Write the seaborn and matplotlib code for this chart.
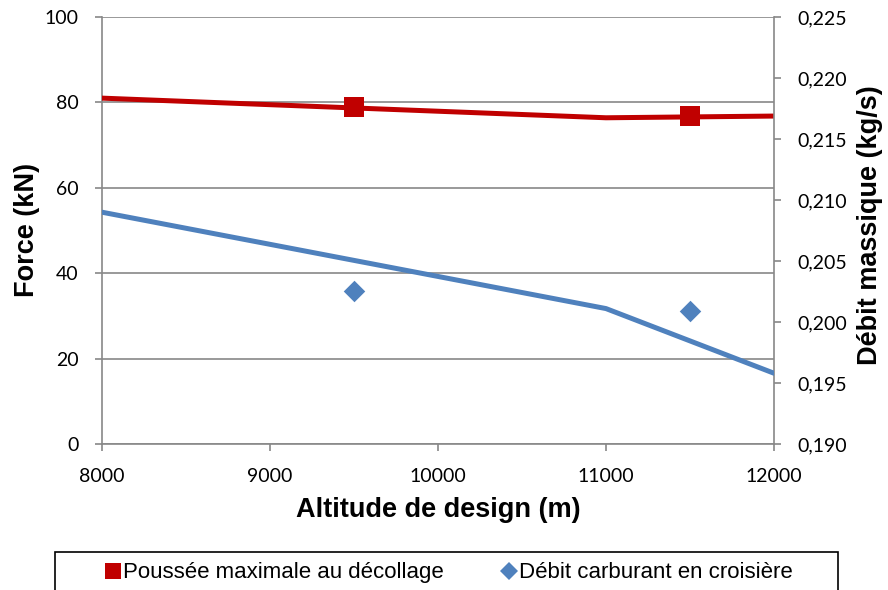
import matplotlib
matplotlib.use("Agg")
import matplotlib.pyplot as plt
import seaborn as sns
import pandas as pd
from matplotlib.patches import Rectangle
from matplotlib.lines import Line2D
from matplotlib.ticker import FuncFormatter

# ---- data ----
alt_line = [8000, 11000, 12000]
poussee_line = [81.0, 76.4, 76.8]
debit_line = [0.2090, 0.2011, 0.1958]

alt_pts = [9500, 11500]
poussee_pts = [78.9, 76.7]
debit_pts = [0.2025, 0.2009]

x_ticks = [8000, 9000, 10000, 11000, 12000]
left_ticks = [0, 20, 40, 60, 80, 100]
right_ticks = [0.190, 0.195, 0.200, 0.205, 0.210, 0.215, 0.220, 0.225]

RED = "#C00000"
BLUE = "#4F81BD"
GRAY = "#888888"

sns.set_style("white")
plt.rcParams["font.family"] = ["Liberation Sans", "DejaVu Sans"]

fig = plt.figure(figsize=(8.88, 5.90), dpi=100)
ax = fig.add_axes([102/888, 1-444/590, (774-102)/888, (444-17)/590])
ax2 = ax.twinx()

df_l = pd.DataFrame({"alt": alt_line, "p": poussee_line, "d": debit_line})
df_p = pd.DataFrame({"alt": alt_pts, "p": poussee_pts, "d": debit_pts})

sns.lineplot(data=df_l, x="alt", y="p", ax=ax, color=RED, linewidth=3.6, zorder=3)
sns.scatterplot(data=df_p, x="alt", y="p", ax=ax, color=RED, marker="s", s=220,
                edgecolor=RED, linewidth=0, zorder=4)
sns.lineplot(data=df_l, x="alt", y="d", ax=ax2, color=BLUE, linewidth=3.6, zorder=3)
sns.scatterplot(data=df_p, x="alt", y="d", ax=ax2, color=BLUE, marker="D", s=120,
                edgecolor=BLUE, linewidth=0, zorder=4)

ax.set_xlim(8000, 12000)
ax.set_ylim(0, 100)
ax2.set_ylim(0.190, 0.225)
ax.set_xticks(x_ticks)
ax.set_yticks(left_ticks)
ax2.set_yticks(right_ticks)
ax2.yaxis.set_major_formatter(FuncFormatter(lambda v, p: f"{v:.3f}".replace(".", ",")))

ax.yaxis.grid(True, color=GRAY, linewidth=1.2)
ax.xaxis.grid(False)
ax2.grid(False)

for a in (ax, ax2):
    for s in a.spines.values():
        s.set_visible(False)
ax.spines["left"].set_visible(True)
ax.spines["bottom"].set_visible(True)
ax2.spines["right"].set_visible(True)
for s in (ax.spines["left"], ax.spines["bottom"], ax2.spines["right"]):
    s.set_color(GRAY)
    s.set_linewidth(1.2)

ax.tick_params(axis="x", which="major", direction="out", length=5, width=1.2,
               color=GRAY, pad=12, bottom=True)
ax.tick_params(axis="y", which="major", direction="out", length=5, width=1.2,
               color=GRAY, pad=12, left=True)
ax2.tick_params(axis="y", direction="out", length=5, width=1.2, color=GRAY, pad=12, right=True)
for lbl in ax.get_xticklabels() + ax.get_yticklabels() + ax2.get_yticklabels():
    lbl.set_fontfamily("Lato")
    lbl.set_fontsize(14)
    lbl.set_color("black")

ax.set_xlabel("Altitude de design (m)", fontsize=19.5, fontweight="bold", color="black")
ax.set_ylabel("Force (kN)", fontsize=19.5, fontweight="bold", color="black")
ax2.set_ylabel("Débit massique (kg/s)", fontsize=19.5, fontweight="bold", color="black")
ax.xaxis.set_label_coords(0.5, (444-510)/427)
ax.xaxis.label.set_va("center")
ax.yaxis.set_label_coords((27-102)/672, (444-230)/427)
ax.yaxis.label.set_va("center")
ax2.yaxis.set_label_coords((870-102)/672, (444-225)/427)
ax2.yaxis.label.set_va("center")

# legend
handles = [
    Line2D([], [], linestyle="none", marker="s", markersize=11, color=RED, markeredgewidth=0),
    Line2D([], [], linestyle="none", marker="D", markersize=9, color=BLUE, markeredgewidth=0),
]
labels = ["Poussée maximale au décollage", "Débit carburant en croisière"]
leg = fig.legend(handles, labels, loc="center", bbox_to_anchor=(0.505, 0.029), ncol=2,
                 frameon=False, fontsize=16, handlelength=0.8, handletextpad=0.05,
                 columnspacing=2.5)
for t in leg.get_texts():
    t.set_color("black")
fig.patches.append(Rectangle((55/888, -0.05), (838-55)/888, 0.05 + (590-552)/590,
                             transform=fig.transFigure, fill=False,
                             edgecolor="black", linewidth=1.2))

fig.savefig("out.png", dpi=100)
